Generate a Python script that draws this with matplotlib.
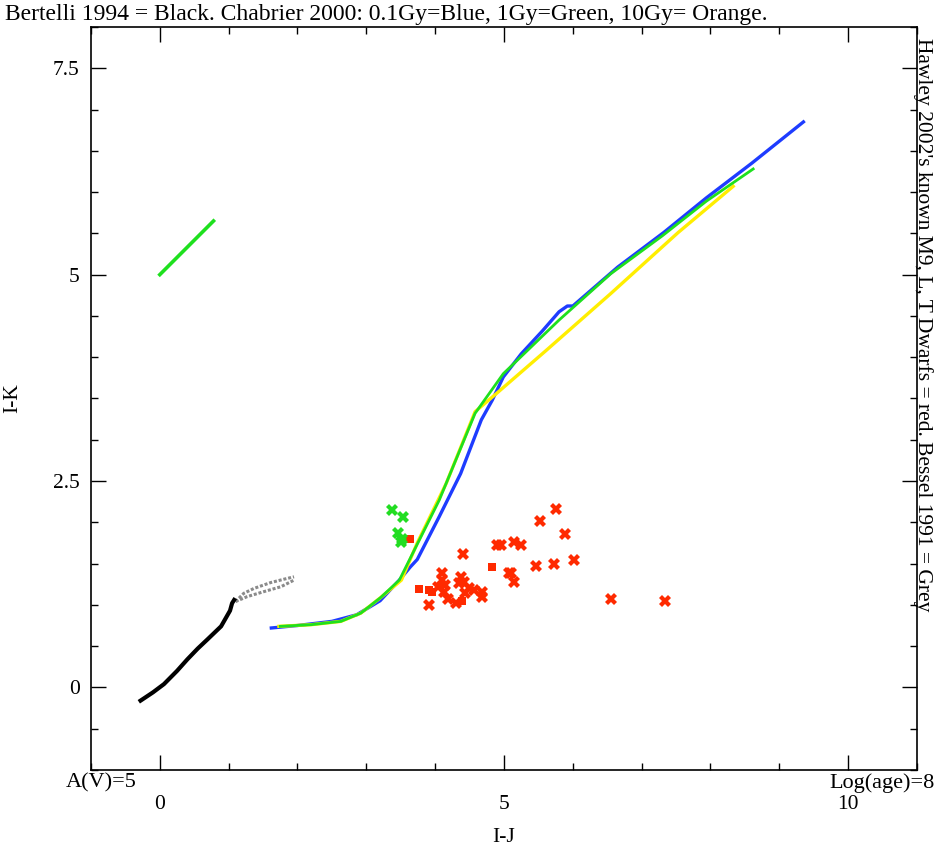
import matplotlib

matplotlib.use("Agg")
import matplotlib.pyplot as plt
from matplotlib.ticker import MultipleLocator

# Bertelli 1994 sequence (black) and Bessel 1991 loop (grey)
bertelli_ij = [-0.28, -0.1, 0.06, 0.25, 0.40, 0.55, 0.69, 0.89, 1.02, 1.05, 1.08]
bertelli_ik = [-0.16, -0.06, 0.04, 0.20, 0.34, 0.47, 0.58, 0.74, 0.93, 1.02, 1.06]

bessel_upper_ij = [1.10, 1.22, 1.37, 1.61, 1.80, 1.95]
bessel_upper_ik = [1.04, 1.14, 1.20, 1.27, 1.31, 1.34]
bessel_lower_ij = [1.10, 1.27, 1.51, 1.76, 1.95]
bessel_lower_ik = [1.04, 1.10, 1.16, 1.22, 1.30]

# Chabrier 2000 isochrones
blue_ij = [1.62, 2.0, 2.5, 2.86, 3.2, 3.48, 3.64, 3.74, 4.06, 4.37, 4.67, 4.83,
           4.99, 5.25, 5.56, 5.80, 5.92, 6.0, 6.65, 7.32, 7.94, 8.6, 9.35]
blue_ik = [0.72, 0.75, 0.80, 0.88, 1.05, 1.30, 1.46, 1.55, 2.07, 2.59, 3.24, 3.48,
           3.76, 4.04, 4.32, 4.55, 4.62, 4.62, 5.09, 5.51, 5.93, 6.35, 6.85]

green_ij = [1.75, 2.2, 2.63, 2.92, 3.21, 3.48, 4.06, 4.58, 4.99, 5.09, 5.8,
            6.55, 7.3, 7.94, 8.62]
green_ik = [0.74, 0.76, 0.80, 0.90, 1.09, 1.30, 2.27, 3.32, 3.80, 3.88, 4.45,
            5.01, 5.47, 5.89, 6.28]

yellow_ij = [1.73, 2.2, 2.63, 2.92, 3.21, 3.51, 3.74, 4.16, 4.58, 4.89, 5.61,
             6.55, 7.53, 8.33]
yellow_ik = [0.74, 0.76, 0.80, 0.90, 1.09, 1.30, 1.75, 2.47, 3.34, 3.56, 4.08,
             4.77, 5.51, 6.07]

# short green segment near I-J = 0
green_seg_ij = [0.0, 0.78]
green_seg_ik = [5.0, 5.65]

# Hawley 2002 M9, L, T dwarfs
hawley_ij = [4.41, 4.90, 4.96, 5.14, 5.24, 5.75, 5.53, 5.88, 5.46, 5.73, 6.01,
             5.10, 5.15, 6.56, 7.34, 4.10, 4.10, 4.15, 4.13, 4.37, 4.42, 4.34,
             4.49, 4.44, 4.56, 4.68, 4.68, 4.18, 4.30, 3.91, 5.07, 4.04]
hawley_ik = [1.62, 1.72, 1.73, 1.76, 1.73, 2.16, 2.02, 1.86, 1.47, 1.50, 1.54,
             1.38, 1.28, 1.07, 1.05, 1.38, 1.30, 1.24, 1.16, 1.34, 1.28, 1.26,
             1.20, 1.14, 1.18, 1.16, 1.10, 1.07, 1.02, 1.00, 1.39, 1.22]
hawley_sq_ij = [3.63, 4.83, 3.76, 3.91, 3.96, 4.39]
hawley_sq_ik = [1.80, 1.46, 1.19, 1.18, 1.16, 1.05]

green_pts_ij = [3.37, 3.54, 3.46, 3.52, 3.50]
green_pts_ik = [2.15, 2.07, 1.87, 1.80, 1.76]

plt.rcParams["font.family"] = ["Liberation Serif", "DejaVu Serif"]

fig = plt.figure(figsize=(9.36, 8.48), dpi=100)
ax = fig.add_axes([0.0972, 0.092, 0.8825, 0.8762])

ax.plot(bessel_upper_ij, bessel_upper_ik, color="#8a8a8a", lw=2.2, ls=(0, (1, 0.6)))
ax.plot(bessel_lower_ij, bessel_lower_ik, color="#8a8a8a", lw=2.2, ls=(0, (1, 0.6)))
ax.plot(bertelli_ij, bertelli_ik, color="black", lw=3.0)

ax.plot(blue_ij, blue_ik, color="#1e3cff", lw=2.4)
ax.plot(yellow_ij, yellow_ik, color="#ffee00", lw=2.4)
ax.plot(green_ij, green_ik, color="#1ee01e", lw=2.0)
ax.plot(green_seg_ij, green_seg_ik, color="#1ee01e", lw=2.6)

ax.plot(hawley_ij, hawley_ik, ls="none", marker="X", ms=8, mew=0,
        color="#ff2a00")
ax.plot(hawley_sq_ij, hawley_sq_ik, ls="none", marker="s", ms=6, mew=0,
        color="#ff2a00")
ax.plot(green_pts_ij, green_pts_ik, ls="none", marker="X", ms=8, mew=0,
        color="#22dd22")

ax.set_xlim(-1, 11)
ax.set_ylim(-1, 8)
ax.xaxis.set_major_locator(MultipleLocator(5))
ax.xaxis.set_minor_locator(MultipleLocator(1))
ax.yaxis.set_major_locator(MultipleLocator(2.5))
ax.yaxis.set_minor_locator(MultipleLocator(0.5))
ax.set_xticks([0, 5, 10], ["0", "5", "10"])
ax.set_yticks([0, 2.5, 5, 7.5], ["0", "2.5", "5", "7.5"])
ax.tick_params(which="both", direction="in", top=True, right=True,
               width=1.0, labelsize=15.5)
ax.tick_params(which="major", length=11)
ax.tick_params(which="minor", length=5)
ax.tick_params(axis="x", pad=18)
ax.tick_params(axis="y", pad=8)
for sp in ax.spines.values():
    sp.set_linewidth(1.2)

ax.set_xlabel("I-J", fontsize=15.5, labelpad=10)
ax.set_ylabel("I-K", fontsize=15.5, labelpad=22)

fig.text(0.005, 0.995,
         "Bertelli 1994 = Black. Chabrier 2000: 0.1Gy=Blue, 1Gy=Green, 10Gy= Orange.",
         fontsize=17, ha="left", va="top")
fig.text(0.997, 0.955,
         "Hawley 2002's known M9, L, T Dwarfs = red. Bessel 1991 = Grey",
         fontsize=15.5, ha="right", va="top", rotation=-90)
fig.text(0.07, 0.088, "A(V)=5", fontsize=16, ha="left", va="top")
fig.text(0.999, 0.088, "Log(age)=8", fontsize=16, ha="right", va="top")

fig.savefig("out.png", dpi=100)
